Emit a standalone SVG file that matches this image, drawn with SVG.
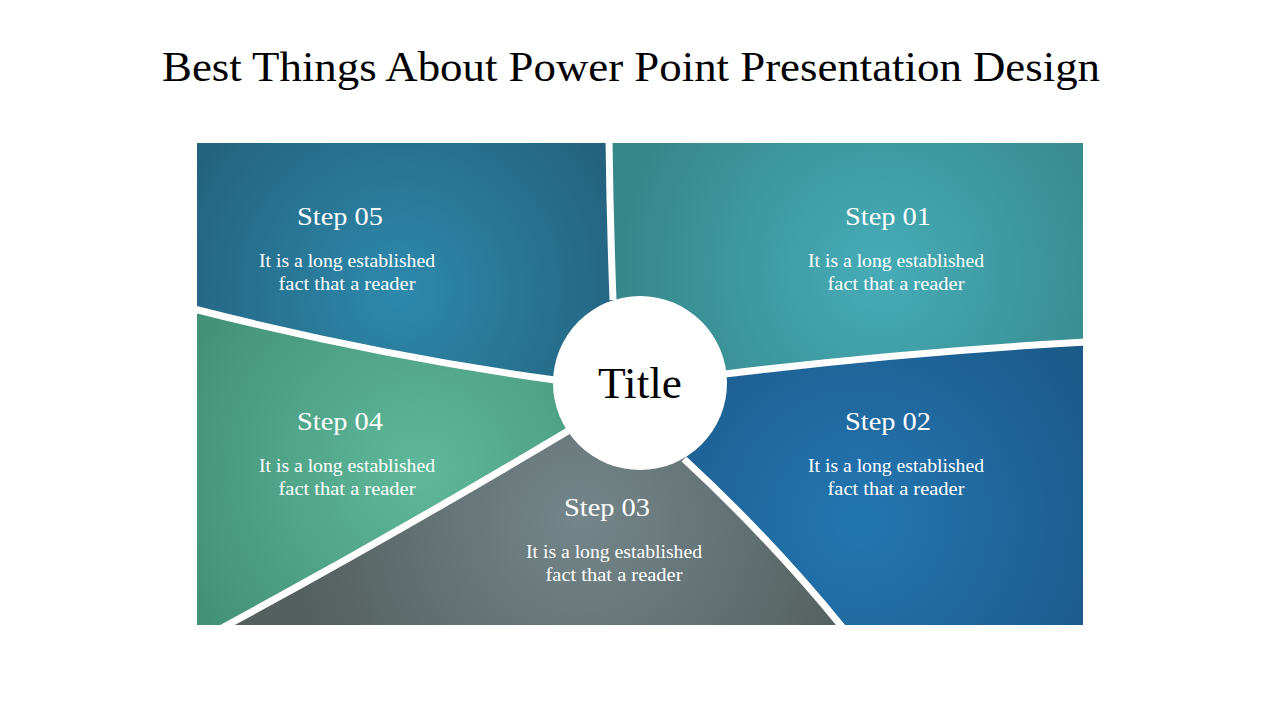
<svg xmlns="http://www.w3.org/2000/svg" width="1280" height="720" viewBox="0 0 1280 720">
<defs>
<radialGradient id="g1" gradientUnits="userSpaceOnUse" cx="880" cy="270" r="260"><stop offset="0" stop-color="#46acb7"/><stop offset="1" stop-color="#36878a"/></radialGradient>
<radialGradient id="g2" gradientUnits="userSpaceOnUse" cx="860" cy="520" r="260"><stop offset="0" stop-color="#2376b2"/><stop offset="1" stop-color="#1c5a8a"/></radialGradient>
<radialGradient id="g3" gradientUnits="userSpaceOnUse" cx="580" cy="520" r="290"><stop offset="0" stop-color="#74868a"/><stop offset="1" stop-color="#545f5e"/></radialGradient>
<radialGradient id="g4" gradientUnits="userSpaceOnUse" cx="420" cy="470" r="260"><stop offset="0" stop-color="#5fb89a"/><stop offset="1" stop-color="#439278"/></radialGradient>
<radialGradient id="g5" gradientUnits="userSpaceOnUse" cx="400" cy="290" r="260"><stop offset="0" stop-color="#2d89ac"/><stop offset="1" stop-color="#235f7b"/></radialGradient>
</defs>
<style>
.h{font-family:"Liberation Serif","DejaVu Serif",serif;fill:#000}
.s{font-family:"Liberation Serif","DejaVu Serif",serif;fill:#fff;font-size:26px;text-anchor:middle}
.b{font-family:"Liberation Serif","DejaVu Serif",serif;fill:#fff;font-size:19px;text-anchor:middle}
.div{fill:none;stroke:#fff;stroke-width:7}
</style>
<text class="h" x="162" y="81" font-size="42" textLength="938" lengthAdjust="spacingAndGlyphs">Best Things About Power Point Presentation Design</text>
<g id="step01">
<path d="M640,383 L613,298 Q610,220 609,143 L1083,143 L1083,342 Q905,352 727,374 Z" fill="url(#g1)"/>
<text class="s" x="888" y="225" textLength="86" lengthAdjust="spacingAndGlyphs">Step 01</text>
<text class="b" x="896" y="267" textLength="176" lengthAdjust="spacingAndGlyphs">It is a long established</text>
<text class="b" x="896" y="290" textLength="137" lengthAdjust="spacingAndGlyphs">fact that a reader</text>
</g>
<g id="step02">
<path d="M640,383 L727,374 Q905,352 1083,342 L1083,625 L841,625 Q771,539.5 685,460 Z" fill="url(#g2)"/>
<text class="s" x="888" y="430" textLength="86" lengthAdjust="spacingAndGlyphs">Step 02</text>
<text class="b" x="896" y="472" textLength="176" lengthAdjust="spacingAndGlyphs">It is a long established</text>
<text class="b" x="896" y="495" textLength="137" lengthAdjust="spacingAndGlyphs">fact that a reader</text>
</g>
<g id="step03">
<path d="M640,383 L685,460 Q771,539.5 841,625 L227,625 Q393,535.5 567,432 Z" fill="url(#g3)"/>
<text class="s" x="607" y="516" textLength="86" lengthAdjust="spacingAndGlyphs">Step 03</text>
<text class="b" x="614" y="558" textLength="176" lengthAdjust="spacingAndGlyphs">It is a long established</text>
<text class="b" x="614" y="581" textLength="137" lengthAdjust="spacingAndGlyphs">fact that a reader</text>
</g>
<g id="step04">
<path d="M640,383 L567,432 Q393,535.5 227,625 L197,625 L197,309.5 Q375,355.25 553,380 Z" fill="url(#g4)"/>
<text class="s" x="340" y="430" textLength="86" lengthAdjust="spacingAndGlyphs">Step 04</text>
<text class="b" x="347" y="472" textLength="176" lengthAdjust="spacingAndGlyphs">It is a long established</text>
<text class="b" x="347" y="495" textLength="137" lengthAdjust="spacingAndGlyphs">fact that a reader</text>
</g>
<g id="step05">
<path d="M640,383 L553,380 Q375,355.25 197,309.5 L197,143 L609,143 Q610,220 613,298 Z" fill="url(#g5)"/>
<text class="s" x="340" y="225" textLength="86" lengthAdjust="spacingAndGlyphs">Step 05</text>
<text class="b" x="347" y="267" textLength="176" lengthAdjust="spacingAndGlyphs">It is a long established</text>
<text class="b" x="347" y="290" textLength="137" lengthAdjust="spacingAndGlyphs">fact that a reader</text>
</g>
<g id="connectors">
<path class="div" d="M613,300 Q610,220 609,140"/>
<path class="div" d="M725,374 Q905,352 1086,342"/>
<path class="div" d="M684,459 Q771,539.5 843,628"/>
<path class="div" d="M568,431 Q393,535.5 222,628"/>
<path class="div" d="M555,380 Q375,355.25 194,309"/>
</g>
<g id="title">
<circle cx="640" cy="383" r="87" fill="#fff"/>
<text x="640" y="398" font-family="Liberation Serif, DejaVu Serif, serif" font-size="44" text-anchor="middle" fill="#000" textLength="84" lengthAdjust="spacingAndGlyphs">Title</text>
</g>
</svg>
